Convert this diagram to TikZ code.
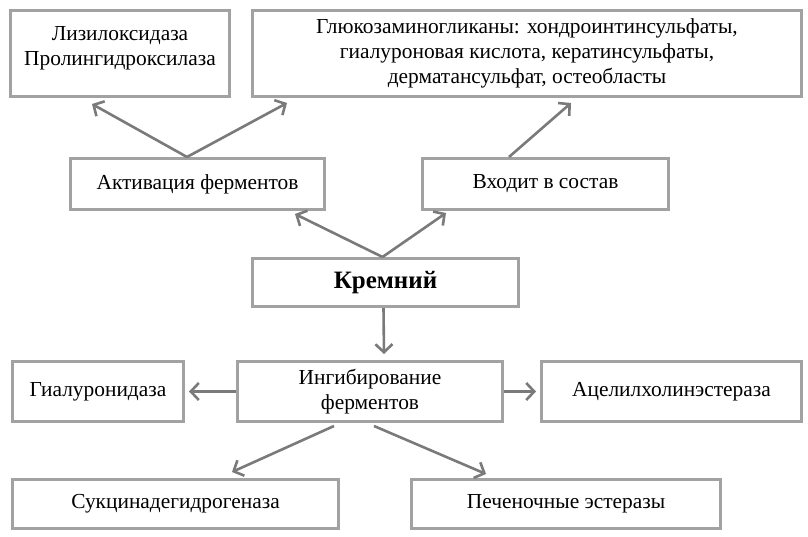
\documentclass[tikz,border=0pt]{standalone}
\usepackage{fontspec}
\setmainfont{Liberation Serif}
\usetikzlibrary{arrows.meta}
\definecolor{boxgray}{HTML}{A2A2A2}
\definecolor{arrgray}{HTML}{7A7A7A}
\tikzset{
  box/.style={draw=boxgray, line width=3pt, fill=white, inner sep=0pt},
  txt/.style={font=\fontsize{21.4}{25}\selectfont, align=center, inner sep=0pt},
  arr/.style={draw=arrgray, line width=2.6pt, -{Straight Barb[length=8pt,width=17pt]}},
}
\begin{document}
\begin{tikzpicture}[x=1pt,y=1pt]
\useasboundingbox[fill=white] (0,0) rectangle (808,536);
% boxes (centres in px from top: y_tikz = 536 - y)
\node[box, minimum width=219pt, minimum height=86pt] (lys) at (120,482.5) {};
\node[txt] (lyst) at ([yshift=5pt]lys.center) {Лизилоксидаза\\Пролингидроксилаза};
\node[box, minimum width=549pt, minimum height=86pt, txt] (glu) at (527,482.5)
  {Глюкозаминогликаны: хондроинтинсульфаты,\\гиалуроновая кислота, кератинсульфаты,\\дерматансульфат, остеобласты};
\node[box, minimum width=254pt, minimum height=51pt, txt] (act) at (197.5,352) {Активация ферментов};
\node[box, minimum width=246pt, minimum height=51pt, txt] (vhod) at (545.5,352) {Входит в состав};
\node[box, minimum width=266pt, minimum height=48pt, txt, font=\fontsize{25}{28}\selectfont\bfseries] (krem) at (385.5,253.5) {Кремний};
\node[box, minimum width=265pt, minimum height=60pt, txt] (ing) at (370,144.5) {Ингибирование\\ферментов};
\node[box, minimum width=171pt, minimum height=60pt, txt] (gial) at (98,144.5) {Гиалуронидаза};
\node[box, minimum width=260pt, minimum height=60pt, txt] (acel) at (671.5,144.5) {Ацелилхолинэстераза};
\node[box, minimum width=326pt, minimum height=49pt, txt] (suk) at (175.5,32) {Сукцинадегидрогеназа};
\node[box, minimum width=309pt, minimum height=49pt, txt] (pech) at (566,32) {Печеночные эстеразы};
% arrows
\draw[arr] ([xshift=-10.5pt]act.north) -- ([xshift=-28pt,yshift=-6pt]lys.south);
\draw[arr] ([xshift=-10.5pt]act.north) -- ([xshift=36pt,yshift=-5pt]glu.south west);
\draw[arr] ([xshift=-36.5pt]vhod.north) -- ([xshift=44pt,yshift=-5pt]glu.south);
\draw[arr] ([xshift=-3pt]krem.north) -- ([xshift=97.5pt,yshift=-3pt]act.south);
\draw[arr] ([xshift=-3pt]krem.north) -- ([xshift=25pt,yshift=-2pt]vhod.south west);
\draw[arr] ([xshift=-2pt]krem.south) -- ([xshift=14pt,yshift=6pt]ing.north);
\draw[arr] (ing.west) -- ([xshift=4pt]gial.east);
\draw[arr] (ing.east) -- ([xshift=-4pt]acel.west);
\draw[arr] ([xshift=-36pt,yshift=-3pt]ing.south) -- ([xshift=56.5pt,yshift=6pt]suk.north);
\draw[arr] ([xshift=4pt,yshift=-3pt]ing.south) -- ([xshift=-80pt,yshift=4pt]pech.north);
\end{tikzpicture}
\end{document}
